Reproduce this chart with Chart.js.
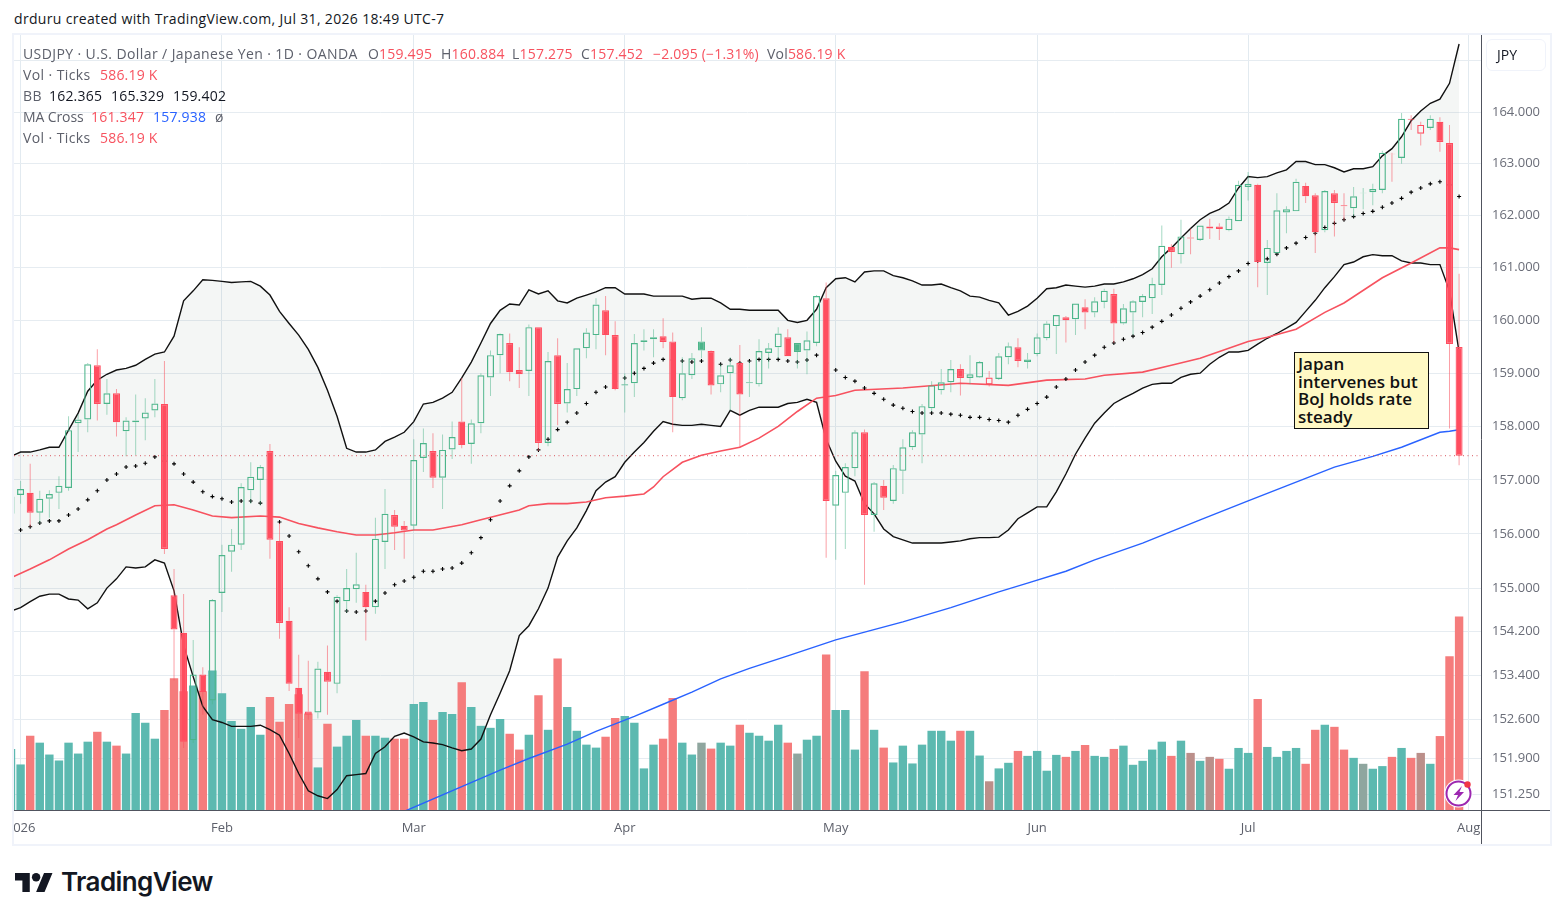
<!DOCTYPE html>
<html>
<head>
<meta charset="utf-8">
<title>USDJPY</title>
<script src="https://cdn.jsdelivr.net/npm/chart.js@4/dist/chart.umd.min.js"></script>
<style>
    html, body { margin: 0; padding: 0; background: #fff; width: 1564px; height: 920px; overflow: hidden; }
    body { font-family: 'Open Sans', sans-serif; font-size: 14px; color: #5d606b; }
    .txt { position: absolute; white-space: nowrap; line-height: 18px; letter-spacing: 0.4px; }
    .num { letter-spacing: 0.2px; }
    .red { color: #f7525f; }
    .blue { color: #2962ff; }
    .black { color: #131722; }
    #frame { position: absolute; left: 12px; top: 33px; width: 1536px; height: 809px; border: 2px solid #f0f3fa; }
    #chartBox { position: absolute; left: 14px; top: 35px; width: 1536px; height: 809px; }
    #jpyBox { position: absolute; left: 1486px; top: 39px; width: 58px; height: 30px; border: 1px solid #f0f3fa; border-radius: 6px;
              line-height: 30px; text-indent: 10px; font-size: 14px; color: #131722; }
    #note { position: absolute; left: 1294px; top: 352px; width: 130px; height: 73px; padding: 2px 0 0 3px; border: 1px solid #111; background: #fff9c4;
            color: #111; font-size: 17px; line-height: 17.5px; font-weight: 600; font-family: 'Open Sans', sans-serif; }
    #logoText { position: absolute; left: 61px; top: 865px; font-family: Inter, sans-serif; font-weight: 600; font-size: 26px; line-height: 34px; color: #131722; letter-spacing: -0.6px; }
</style>
</head>
<body>
<div class="txt black" style="left:14px;top:10px;letter-spacing:0.33px;">drduru created with TradingView.com, Jul 31, 2026 18:49 UTC-7</div>
<div id="frame"></div>
<div id="chartBox"><canvas id="usdjpyChart" width="1536" height="809"></canvas></div>

<div class="txt" style="left:23px;top:45px;">USDJPY · U.S. Dollar / Japanese Yen · 1D · OANDA</div>
<div class="txt num" style="left:368px;top:45px;">O<span class="red">159.495</span></div>
<div class="txt num" style="left:441px;top:45px;">H<span class="red">160.884</span></div>
<div class="txt num" style="left:512px;top:45px;">L<span class="red">157.275</span></div>
<div class="txt num" style="left:581px;top:45px;">C<span class="red">157.452</span></div>
<div class="txt num red" style="left:653px;top:45px;">−2.095 (−1.31%)</div>
<div class="txt num" style="left:767px;top:45px;">Vol<span class="red">586.19 K</span></div>
<div class="txt" style="left:23px;top:66px;">Vol · Ticks</div>
<div class="txt num red" style="left:100px;top:66px;">586.19 K</div>
<div class="txt" style="left:23px;top:87px;">BB</div>
<div class="txt num black" style="left:49px;top:87px;">162.365</div>
<div class="txt num black" style="left:111px;top:87px;">165.329</div>
<div class="txt num black" style="left:173px;top:87px;">159.402</div>
<div class="txt" style="left:23px;top:108px;letter-spacing:-0.1px;">MA Cross</div>
<div class="txt num red" style="left:91px;top:108px;">161.347</div>
<div class="txt num blue" style="left:153px;top:108px;">157.938</div>
<div class="txt" style="left:215px;top:108px;">ø</div>
<div class="txt" style="left:23px;top:129px;">Vol · Ticks</div>
<div class="txt num red" style="left:100px;top:129px;">586.19 K</div>

<div id="jpyBox">JPY</div>
<div id="note">Japan<br>intervenes but<br>BoJ holds rate<br>steady</div>

<svg style="position:absolute;left:1444px;top:779px;" width="30" height="30" viewBox="0 0 30 30">
    <circle cx="14.5" cy="14.5" r="14" fill="#fff"/>
    <circle cx="14.5" cy="14.5" r="12" fill="none" stroke="#9c27b0" stroke-width="2"/>
    <path d="M18 7 L9.5 16 L14 16 L11.5 22 L20 13 L15.5 13 Z" fill="#9c27b0"/>
    <circle cx="23.5" cy="5.5" r="3.2" fill="#f23645"/>
</svg>

<svg style="position:absolute;left:15px;top:873px;" width="38" height="19" viewBox="0 4 36 18">
    <path d="M14 22H7V11H0V4h14v18zM28 22h-8l7.5-18h8L28 22z" fill="#131722"/>
    <circle cx="20" cy="8" r="4" fill="#131722"/>
</svg>
<div id="logoText">TradingView</div>

<script>
// Daily bars, Jan 1 to Jul 31 2026, one entry per weekday
const opens = [
    156.37,156.72,156.76,156.39,156.65,156.76,156.85,158.06,158.13,159.15,
    158.42,158.62,157.91,158.08,158.15,158.30,158.42,154.87,154.18,152.23,
    153.42,152.95,154.91,155.67,155.80,156.81,157.00,157.54,155.87,154.40,
    153.18,152.75,152.73,153.47,153.25,154.76,154.98,154.93,154.65,155.85,
    156.35,156.15,156.15,157.41,157.54,157.04,157.57,158.09,157.67,158.06,
    158.92,159.34,159.57,159.06,159.04,159.87,157.69,159.34,158.43,158.70,
    159.47,159.72,160.19,159.72,158.77,158.81,159.59,159.64,159.70,159.60,
    158.53,158.96,159.60,159.42,158.79,159.00,159.19,158.81,158.79,159.38,
    159.49,159.68,159.57,159.43,159.57,160.42,156.52,156.76,157.22,157.89,
    156.35,156.89,156.61,157.17,157.61,157.85,158.34,158.68,158.83,159.08,
    158.91,158.92,158.79,158.89,159.30,159.49,159.21,159.36,159.66,159.89,
    160.06,160.02,160.25,160.15,160.35,160.50,159.94,160.15,160.35,160.42,
    160.67,161.40,161.26,161.56,161.53,161.75,161.79,161.72,161.89,162.55,
    162.59,161.09,161.28,162.06,162.08,162.57,162.39,161.72,162.43,162.20,
    162.14,162.44,162.45,162.49,163.19,163.11,163.87,163.58,163.69,163.81,
    163.40,159.495
];
const highs = [
    157.02,156.98,157.30,156.80,156.81,157.07,158.19,158.23,159.19,159.45,
    158.89,158.70,158.17,158.60,158.53,158.89,159.23,155.35,154.89,154.05,
    153.55,154.80,155.80,156.09,156.94,157.33,157.28,157.67,156.20,154.65,
    153.78,153.67,153.65,153.95,154.87,155.35,155.65,155.06,156.30,156.83,
    156.44,156.24,157.76,157.96,157.87,157.85,158.09,158.91,158.13,159.00,
    159.43,159.75,159.75,159.49,159.92,159.87,159.40,159.66,159.19,159.47,
    159.85,160.42,160.46,159.98,159.00,159.74,159.83,159.83,160.04,159.77,
    159.30,159.38,159.87,159.43,159.17,159.30,159.53,159.23,159.64,159.57,
    159.87,159.83,159.57,159.79,160.48,160.72,157.17,157.31,157.93,157.94,
    156.96,157.00,157.28,157.76,157.93,158.42,158.85,159.08,159.25,159.17,
    159.34,159.23,159.04,159.38,159.58,159.66,159.38,159.75,159.98,160.10,
    160.08,160.32,160.40,160.44,160.60,160.60,160.31,160.38,160.50,160.81,
    161.81,161.45,161.92,161.75,161.81,161.94,161.85,161.98,162.67,162.84,
    162.61,161.53,162.43,162.18,162.71,162.63,162.43,162.49,162.49,162.43,
    162.55,162.53,162.61,163.25,163.21,163.98,163.94,163.81,163.94,163.90,
    163.75,160.884
];
const lows = [
    156.30,156.56,156.13,156.19,156.30,156.46,156.80,157.52,157.89,158.11,
    158.22,157.81,157.44,157.46,157.74,158.17,155.63,153.31,152.09,152.18,
    152.69,152.88,154.56,155.30,155.70,156.56,156.52,155.54,154.07,153.12,
    152.27,152.60,152.62,152.69,153.08,154.55,154.73,154.04,154.53,155.35,
    155.70,155.54,156.06,157.15,156.85,156.46,157.39,157.59,157.30,157.87,
    158.57,159.00,158.85,158.72,158.57,157.54,157.63,158.02,158.26,158.57,
    159.28,159.45,159.34,158.68,158.26,158.55,159.43,159.30,159.47,157.89,
    158.49,158.89,159.28,158.60,158.64,158.30,157.61,158.55,158.75,159.09,
    159.28,159.32,159.09,158.98,159.51,155.56,155.52,155.72,157.07,155.06,
    156.04,156.44,156.56,156.74,157.56,157.31,158.28,158.60,158.64,158.58,
    158.79,158.91,158.75,158.87,159.17,159.11,159.09,159.32,159.62,159.36,
    159.58,159.72,159.83,160.06,160.23,159.57,159.92,159.72,160.06,160.12,
    160.48,161.00,161.08,161.26,161.51,161.55,161.53,161.70,161.89,162.29,
    160.63,160.48,161.26,161.66,162.08,162.24,161.28,161.68,161.60,161.91,
    161.98,162.12,162.20,162.43,162.65,163.00,163.65,163.35,163.65,163.23,
    157.96,157.275
];
const closes = [
    156.69,156.83,156.39,156.65,156.74,156.89,157.93,158.13,159.17,158.42,
    158.62,158.08,158.11,158.11,158.26,158.43,155.72,154.24,152.20,153.42,
    153.10,154.78,155.61,155.80,156.87,157.06,157.24,155.89,154.36,153.25,
    152.71,152.69,153.53,153.29,154.84,155.00,155.07,154.65,155.91,156.37,
    156.13,156.06,157.37,157.69,157.04,157.56,157.80,157.65,158.06,158.96,
    159.34,159.74,159.02,158.98,159.87,157.69,159.23,158.42,158.70,159.47,
    159.77,160.30,159.72,158.70,158.79,159.57,159.62,159.68,159.59,158.55,
    159.00,159.28,159.43,158.77,158.96,159.15,158.60,158.83,159.42,159.47,
    159.75,159.32,159.40,159.62,160.46,156.61,157.09,157.24,157.89,156.35,
    156.94,156.67,157.22,157.61,157.89,158.38,158.77,158.83,159.08,158.91,
    158.98,159.21,158.92,159.32,159.51,159.23,159.26,159.68,159.94,160.10,
    160.00,160.32,160.15,160.36,160.56,159.94,160.23,160.36,160.46,160.69,
    161.42,161.30,161.60,161.58,161.81,161.79,161.74,161.94,162.59,162.61,
    161.11,161.38,162.10,162.12,162.65,162.37,161.68,162.47,162.24,162.18,
    162.37,162.43,162.51,163.21,163.18,163.87,163.85,163.75,163.87,163.42,
    159.55,157.452
];
// Volume in thousands of ticks
const volumes = [
    185,138,225,204,168,150,204,171,207,237,
    207,195,171,294,264,216,303,399,360,377,
    360,423,354,270,246,312,228,342,267,321,
    351,292,129,261,192,225,273,225,225,219,
    216,216,321,327,273,297,291,387,312,255,
    249,276,231,183,228,348,243,459,312,240,
    198,189,222,279,285,264,126,198,216,339,
    204,168,204,186,204,195,258,234,225,210,
    258,204,171,213,225,471,303,303,183,420,
    243,189,144,195,141,198,240,240,210,240,
    240,165,87,126,143,179,164,179,119,167,
    161,179,197,164,161,185,195,137,149,183,
    207,164,210,173,149,161,155,125,188,173,
    336,191,161,179,188,140,243,258,252,183,
    158,140,125,133,161,188,158,173,140,224,
    466,586.19
];
// Bollinger bands
const bbUpper = [
    157.44,157.52,157.52,157.56,157.61,157.61,157.93,158.25,158.66,158.87,
    158.98,159.06,159.09,159.15,159.26,159.36,159.40,159.70,160.37,160.56,
    160.77,160.76,160.74,160.72,160.73,160.74,160.65,160.48,160.17,159.94,
    159.72,159.45,159.11,158.68,158.19,157.59,157.52,157.52,157.56,157.72,
    157.80,157.89,158.09,158.42,158.45,158.53,158.64,158.91,159.21,159.57,
    159.94,160.19,160.31,160.29,160.58,160.50,160.56,160.37,160.33,160.42,
    160.48,160.54,160.62,160.62,160.50,160.50,160.50,160.46,160.46,160.46,
    160.46,160.40,160.42,160.42,160.33,160.21,160.21,160.19,160.19,160.19,
    160.19,160.00,159.96,160.00,160.21,160.62,160.79,160.81,160.73,160.92,
    160.94,160.94,160.85,160.81,160.75,160.67,160.67,160.69,160.62,160.56,
    160.46,160.44,160.38,160.33,160.10,160.17,160.27,160.42,160.60,160.62,
    160.67,160.65,160.63,160.65,160.69,160.69,160.73,160.79,160.87,160.98,
    161.21,161.38,161.57,161.75,161.92,162.04,162.12,162.24,162.53,162.75,
    162.73,162.75,162.82,162.88,163.04,163.04,162.98,162.98,162.92,162.84,
    162.90,162.90,162.94,163.15,163.29,163.52,163.83,164.02,164.17,164.25,
    164.56,165.329
];
const bbLower = [
    154.58,154.64,154.75,154.85,154.89,154.89,154.80,154.78,154.62,154.73,
    155.00,155.17,155.39,155.37,155.39,155.52,155.46,154.95,153.95,153.38,
    152.84,152.60,152.55,152.48,152.48,152.48,152.50,152.42,152.32,151.99,
    151.63,151.32,151.23,151.18,151.34,151.59,151.61,151.63,151.99,152.11,
    152.30,152.36,152.29,152.20,152.18,152.15,152.09,152.04,152.07,152.25,
    152.69,153.08,153.49,154.13,154.31,154.62,155.00,155.57,155.87,156.11,
    156.43,156.80,156.96,157.06,157.33,157.52,157.70,157.91,158.09,158.04,
    158.02,158.02,158.04,158.02,158.00,158.30,158.21,158.30,158.36,158.36,
    158.36,158.43,158.45,158.51,158.45,157.76,157.35,157.07,156.98,156.56,
    156.37,156.09,155.95,155.89,155.83,155.83,155.83,155.83,155.85,155.87,
    155.91,155.93,155.93,155.94,156.07,156.28,156.39,156.50,156.50,156.78,
    157.11,157.48,157.78,158.06,158.25,158.43,158.53,158.62,158.72,158.79,
    158.81,158.81,158.92,158.98,159.00,159.17,159.30,159.40,159.40,159.43,
    159.55,159.66,159.75,159.85,159.96,160.17,160.38,160.62,160.83,161.06,
    161.11,161.21,161.25,161.23,161.23,161.13,161.09,161.09,161.06,161.06,
    160.56,159.402
];
const bbBasis = [
    156.04,156.07,156.13,156.20,156.24,156.24,156.35,156.46,156.63,156.80,
    157.00,157.11,157.24,157.26,157.31,157.43,157.35,157.30,157.11,156.96,
    156.78,156.69,156.65,156.59,156.61,156.61,156.57,156.43,156.22,155.96,
    155.67,155.41,155.17,154.93,154.76,154.58,154.56,154.58,154.76,154.91,
    155.06,155.13,155.20,155.31,155.31,155.35,155.37,155.46,155.65,155.93,
    156.26,156.61,156.89,157.17,157.43,157.56,157.76,157.94,158.08,158.25,
    158.43,158.64,158.74,158.85,158.91,159.00,159.09,159.19,159.26,159.25,
    159.23,159.21,159.23,159.19,159.17,159.25,159.19,159.23,159.26,159.26,
    159.26,159.23,159.21,159.25,159.34,159.19,159.06,158.92,158.85,158.72,
    158.62,158.51,158.40,158.34,158.28,158.25,158.25,158.25,158.23,158.21,
    158.17,158.17,158.13,158.11,158.08,158.21,158.32,158.43,158.55,158.74,
    158.89,159.06,159.21,159.34,159.49,159.57,159.64,159.70,159.77,159.87,
    159.98,160.10,160.23,160.35,160.46,160.58,160.71,160.83,160.94,161.08,
    161.13,161.17,161.26,161.38,161.47,161.58,161.66,161.77,161.85,161.92,
    161.98,162.04,162.08,162.16,162.24,162.33,162.45,162.53,162.61,162.65,
    162.59,162.365
];
const ma50Days = [0,2,4,6,8,10,11,13,15,17,19,21,23,26,28,30,32,34,36,38,40,42,44,47,49,53,54,56,58,60,62,64,66,67,68,70,72,74,76,78,80,82,84,86,88,93,99,104,108,112,114,118,121,124,129,131,134,137,139,143,146,149,150,151];
const ma50Values = [155.19,155.35,155.52,155.72,155.89,156.09,156.17,156.35,156.52,156.54,156.44,156.33,156.30,156.33,156.31,156.19,156.11,156.04,155.98,155.98,156.02,156.07,156.07,156.17,156.26,156.44,156.52,156.56,156.56,156.59,156.67,156.70,156.74,156.87,157.06,157.33,157.46,157.54,157.61,157.78,158.00,158.28,158.53,158.58,158.68,158.72,158.81,158.77,158.87,158.89,158.96,159.02,159.15,159.28,159.60,159.68,159.83,160.15,160.33,160.81,161.09,161.38,161.38,161.347];
const ma200Days = [41,51,54,58,61,65,68,71,74,77,81,86,93,98,103,106,110,113,118,124,129,133,138,142,145,149,150,151];
const ma200Values = [150.95,151.69,151.90,152.16,152.39,152.66,152.88,153.10,153.34,153.53,153.76,154.05,154.38,154.64,154.93,155.09,155.31,155.52,155.83,156.26,156.61,156.89,157.24,157.44,157.61,157.89,157.91,157.938];

// Axis ticks
const priceTicks = [165, 164, 163, 162, 161, 160, 159, 158, 157, 156, 155, 154.2, 153.4, 152.6, 151.9, 151.25];
const hiddenPriceTicks = [165];
const monthDays = [1, 22, 42, 64, 86, 107, 129, 152];
const monthLabels = ['2026', 'Feb', 'Mar', 'Apr', 'May', 'Jun', 'Jul', 'Aug'];

const lastClose = closes[closes.length - 1];
const xMin = 0.313, xMax = 153.285;

const green = '#4cb58a', red = '#ff4d5f';
const greenWick = 'rgba(76,181,138,0.5)', redWick = 'rgba(247,82,95,0.55)';

// True when the bar closed above the previous close
function isRising(i) {
    return i === 0 || closes[i] >= closes[i - 1];
}

// Volume colours overlap where the two volume studies disagree
function volumeColor(i) {
    const up = closes[i] >= opens[i];
    if (up && isRising(i)) return '#5cb9b0';
    if (!up && !isRising(i)) return '#f57c7c';
    return up ? '#bb8f8a' : '#8fa69f';
}

function linePoints(days, values) {
    return days.map((d, i) => ({x: d, y: values[i]}));
}

const allDays = closes.map((c, i) => i);

const datasets = [
    {
        type: 'bar', label: 'Body', order: 1, grouped: false, barThickness: 7,
        data: allDays.map(i => ({x: i, y: [opens[i], closes[i]]})),
        backgroundColor: allDays.map(i => closes[i] >= opens[i] ? 'rgba(0,0,0,0)' : (isRising(i) ? green : red)),
        borderColor: allDays.map(i => isRising(i) ? green : red),
        borderWidth: 1.2, borderSkipped: false, inflateAmount: 0
    },
    {
        type: 'bar', label: 'Upper wick', order: 2, grouped: false, barThickness: 1,
        data: allDays.map(i => ({x: i, y: [Math.max(opens[i], closes[i]), highs[i]]})),
        backgroundColor: allDays.map(i => isRising(i) ? greenWick : redWick),
        borderWidth: 0, inflateAmount: 0
    },
    {
        type: 'bar', label: 'Lower wick', order: 2, grouped: false, barThickness: 1,
        data: allDays.map(i => ({x: i, y: [lows[i], Math.min(opens[i], closes[i])]})),
        backgroundColor: allDays.map(i => isRising(i) ? greenWick : redWick),
        borderWidth: 0, inflateAmount: 0
    },
    {
        type: 'line', label: 'BB basis', order: 3, showLine: false,
        data: linePoints(allDays, bbBasis),
        pointStyle: 'cross', pointRadius: 2, pointBorderColor: '#000', pointBorderWidth: 1.1
    },
    {
        type: 'line', label: 'MA 50', order: 4,
        data: linePoints(ma50Days, ma50Values),
        borderColor: '#f7525f', borderWidth: 1.6, pointRadius: 0, tension: 0
    },
    {
        type: 'line', label: 'MA 200', order: 4,
        data: linePoints(ma200Days, ma200Values),
        borderColor: '#2962ff', borderWidth: 1.4, pointRadius: 0, tension: 0
    },
    {
        type: 'line', label: 'BB upper', order: 5,
        data: linePoints(allDays, bbUpper),
        borderColor: '#111', borderWidth: 1.4, pointRadius: 0, tension: 0,
        fill: '+1', backgroundColor: 'rgba(120,140,130,0.08)'
    },
    {
        type: 'line', label: 'BB lower', order: 5,
        data: linePoints(allDays, bbLower),
        borderColor: '#111', borderWidth: 1.4, pointRadius: 0, tension: 0
    },
    {
        type: 'bar', label: 'Volume', order: 6, grouped: false, yAxisID: 'vol', barThickness: 8.4,
        data: allDays.map(i => ({x: i, y: volumes[i]})),
        backgroundColor: allDays.map(volumeColor),
        borderWidth: 0, inflateAmount: 0
    },
    {
        type: 'line', label: 'Last close', order: 0,
        data: linePoints([xMin, xMax], [lastClose, lastClose]),
        borderColor: '#d9565f', borderWidth: 1, borderDash: [1, 3.5], pointRadius: 0
    }
];

// Axis lines run on past the plot area to the edge of the frame
const axisLines = {
    id: 'axisLines',
    afterDraw(chart) {
        const ctx = chart.ctx, area = chart.chartArea;
        ctx.save();
        ctx.strokeStyle = '#50535e';
        ctx.lineWidth = 1;
        ctx.beginPath();
        ctx.moveTo(Math.round(area.right) + 0.5, area.top);
        ctx.lineTo(Math.round(area.right) + 0.5, chart.height);
        ctx.moveTo(0, Math.round(area.bottom) + 0.5);
        ctx.lineTo(chart.width, Math.round(area.bottom) + 0.5);
        ctx.stroke();
        ctx.restore();
    }
};

document.addEventListener('DOMContentLoaded', function() {
    const ctx = document.getElementById('usdjpyChart').getContext('2d');
    new Chart(ctx, {
        type: 'bar',
        data: {datasets: datasets},
        plugins: [axisLines],
        options: {
            responsive: false,
            animation: false,
            events: [],
            layout: {padding: 0, autoPadding: false},
            plugins: {
                legend: {display: false},
                tooltip: {enabled: false},
                filler: {drawTime: 'beforeDatasetsDraw'}
            },
            scales: {
                x: {
                    type: 'linear',
                    bounds: 'data',
                    offset: false,
                    min: xMin,
                    max: xMax,
                    afterBuildTicks: axis => { axis.ticks = monthDays.map(d => ({value: d})); },
                    afterFit: axis => { axis.height = 34; axis.paddingLeft = 0; axis.paddingRight = 0; },
                    grid: {color: '#e2eaf0', drawTicks: false, offset: false},
                    border: {display: false},
                    ticks: {
                        autoSkip: false, maxRotation: 0, minRotation: 0, padding: 10,
                        color: '#5d606b', font: {family: "'Open Sans', sans-serif", size: 13},
                        callback: value => monthLabels[monthDays.indexOf(value)]
                    }
                },
                y: {
                    type: 'logarithmic',
                    position: 'right',
                    bounds: 'data',
                    min: 150.975,
                    max: 165.505,
                    afterBuildTicks: axis => { axis.ticks = priceTicks.map(v => ({value: v})); },
                    afterFit: axis => { axis.width = 69; axis.paddingTop = 0; axis.paddingBottom = 0; },
                    grid: {color: '#e6ecf1', drawTicks: false},
                    border: {display: false},
                    ticks: {
                        autoSkip: false, padding: 11,
                        color: '#6a6d78', font: {family: "'Open Sans', sans-serif", size: 13},
                        callback: value => hiddenPriceTicks.includes(value) ? '' : value.toFixed(3)
                    }
                },
                vol: {
                    type: 'linear',
                    display: false,
                    bounds: 'data',
                    min: 0,
                    max: 2348
                }
            }
        }
    });
});
</script>
</body>
</html>
